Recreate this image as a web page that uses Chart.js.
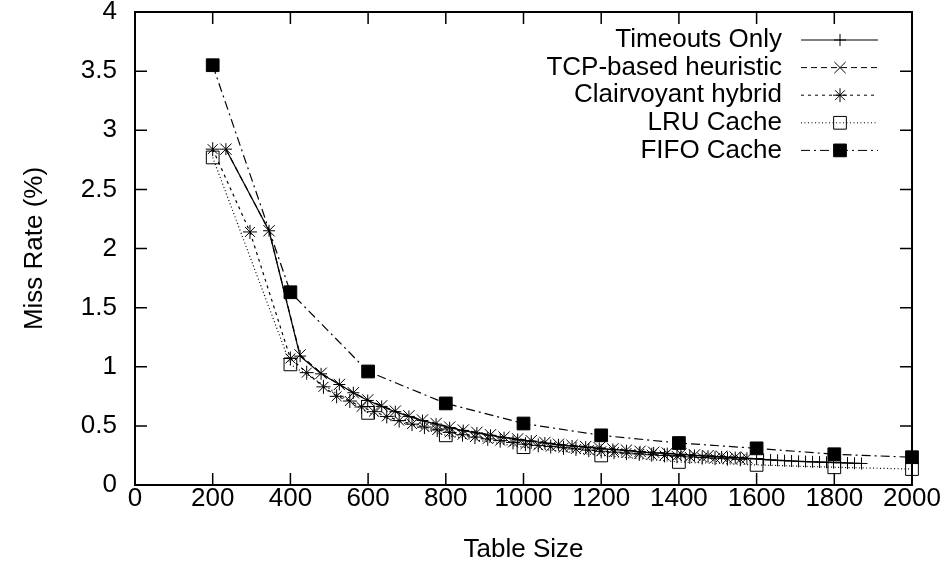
<!DOCTYPE html>
<html>
<head>
<meta charset="utf-8">
<script src="https://cdn.jsdelivr.net/npm/chart.js@4.4.1/dist/chart.umd.min.js"></script>
<style>
  body { margin: 0; background: #fff; }
  #wrap { width: 951px; height: 571px; }
</style>
</head>
<body>
<div id="wrap"><canvas id="chart" width="951" height="571"></canvas></div>
<script>
/******************************************************************************
* Data (table size vs. miss rate in %).
******************************************************************************/
var xTicks = [0, 200, 400, 600, 800, 1000, 1200, 1400, 1600, 1800, 2000];
var yTicks = [0, 0.5, 1, 1.5, 2, 2.5, 3, 3.5, 4];

var seriesNames = ["Timeouts Only", "TCP-based heuristic", "Clairvoyant hybrid", "LRU Cache", "FIFO Cache"];

var timeoutsX = [234, 345, 425, 479, 526, 562, 599, 635, 670, 705, 740, 775, 810, 845, 880, 915,
                 950, 985, 1020, 1055, 1090, 1125, 1160, 1195, 1230, 1265, 1300, 1335, 1370, 1405,
                 1440, 1475, 1510, 1545, 1575, 1600, 1618, 1636, 1654, 1672, 1690, 1708, 1726,
                 1744, 1762, 1780, 1798, 1816, 1834, 1852, 1870];
var timeoutsY = [2.84, 2.15, 1.09, 0.94, 0.85, 0.78, 0.715, 0.665, 0.62, 0.58, 0.545, 0.515, 0.485,
                 0.46, 0.44, 0.42, 0.40, 0.385, 0.37, 0.355, 0.34, 0.33, 0.32, 0.31, 0.30, 0.29,
                 0.28, 0.272, 0.265, 0.258, 0.25, 0.244, 0.238, 0.232, 0.226, 0.22, 0.216, 0.212,
                 0.209, 0.206, 0.203, 0.2, 0.198, 0.196, 0.194, 0.192, 0.19, 0.188, 0.186, 0.184, 0.182];

var tcpX = [234, 345, 425, 479, 526, 562, 599, 635, 670, 705, 740, 775, 810, 845, 880, 915,
            950, 985, 1020, 1055, 1090, 1125, 1160, 1195, 1230, 1265, 1300, 1335, 1370, 1405,
            1440, 1475, 1510, 1545, 1575];
var tcpY = [2.84, 2.15, 1.10, 0.945, 0.85, 0.78, 0.72, 0.67, 0.625, 0.585, 0.55, 0.52, 0.49,
            0.465, 0.445, 0.425, 0.405, 0.39, 0.375, 0.36, 0.345, 0.335, 0.325, 0.315, 0.305,
            0.295, 0.285, 0.277, 0.27, 0.262, 0.255, 0.248, 0.242, 0.236, 0.23];

var clairX = [200, 296, 400, 442, 485, 519, 553, 583, 615, 648, 680, 713, 745, 778, 810, 843,
              875, 908, 940, 973, 1005, 1038, 1070, 1103, 1135, 1168, 1200, 1233, 1265, 1298,
              1330, 1363, 1395, 1428, 1460, 1493, 1525, 1558];
var clairY = [2.84, 2.14, 1.07, 0.95, 0.83, 0.75, 0.71, 0.66, 0.62, 0.58, 0.545, 0.515, 0.49,
              0.465, 0.445, 0.425, 0.405, 0.39, 0.375, 0.36, 0.345, 0.335, 0.325, 0.315, 0.305,
              0.295, 0.285, 0.278, 0.27, 0.263, 0.256, 0.25, 0.244, 0.238, 0.232, 0.227, 0.222, 0.217];

var cacheX = [200, 400, 600, 800, 1000, 1200, 1400, 1600, 1800, 2000];
var lruY   = [2.77, 1.02, 0.61, 0.42, 0.32, 0.25, 0.195, 0.17, 0.15, 0.135];
var fifoY  = [3.55, 1.63, 0.96, 0.69, 0.52, 0.42, 0.355, 0.31, 0.26, 0.235];

/******************************************************************************
* Helpers
******************************************************************************/
var FONT = '"Liberation Sans", Arial, Helvetica, sans-serif';

function pairs(xs, ys) {
    return xs.map(function(x, i) { return { x: x, y: ys[i] }; });
}

function plain_label(value) {
    // gnuplot style: no thousands separator, no trailing ".0"
    return String(value);
}

function make_series(label, xs, ys, dash, style, radius, fill, order) {
    return {
        label: label,
        data: pairs(xs, ys),
        borderColor: '#000',
        borderWidth: 1.2,
        borderDash: dash,
        pointStyle: style,
        pointRadius: radius,
        pointBorderWidth: 1,
        pointBorderColor: '#000',
        pointBackgroundColor: fill,
        fill: false,
        tension: 0,
        clip: false,
        order: order
    };
}

/******************************************************************************
* Border box with inward ticks on all four sides (gnuplot look).
******************************************************************************/
var framePlugin = {
    id: 'frame',
    afterDatasetsDraw: function(chart) {
        var ctx  = chart.ctx;
        var area = chart.chartArea;
        var xs   = chart.scales.x;
        var ys   = chart.scales.y;
        var len  = 12;

        ctx.save();
        ctx.strokeStyle = '#000';
        ctx.lineWidth = 1.5;
        ctx.setLineDash([]);
        ctx.beginPath();

        xTicks.forEach(function(v) {
            var px = xs.getPixelForValue(v);
            ctx.moveTo(px, area.bottom); ctx.lineTo(px, area.bottom - len);
            ctx.moveTo(px, area.top);    ctx.lineTo(px, area.top + len);
        });
        yTicks.forEach(function(v) {
            var py = ys.getPixelForValue(v);
            ctx.moveTo(area.left, py);  ctx.lineTo(area.left + len, py);
            ctx.moveTo(area.right, py); ctx.lineTo(area.right - len, py);
        });
        ctx.stroke();

        ctx.lineWidth = 2;
        ctx.strokeRect(area.left, area.top, area.right - area.left, area.bottom - area.top);
        ctx.restore();
    }
};

/******************************************************************************
* Key in the top right corner: right aligned text, then the line sample.
******************************************************************************/
var keyPlugin = {
    id: 'gpKey',
    afterDraw: function(chart) {
        var ctx   = chart.ctx;
        var right = chart.chartArea.right;
        var top   = chart.chartArea.top;

        ctx.save();
        ctx.font = '26px ' + FONT;
        ctx.textAlign = 'right';
        ctx.textBaseline = 'middle';

        chart.data.datasets.forEach(function(ds, i) {
            var y = top + 28 + i * 27.6;

            ctx.fillStyle = '#000';
            ctx.fillText(ds.label, right - 130, y);

            ctx.strokeStyle = '#000';
            ctx.lineWidth = 1;
            ctx.setLineDash(ds.borderDash);
            ctx.beginPath();
            ctx.moveTo(right - 111, y);
            ctx.lineTo(right - 34, y);
            ctx.stroke();
            ctx.setLineDash([]);

            ctx.fillStyle = ds.pointBackgroundColor;
            Chart.helpers.drawPoint(ctx, {
                pointStyle: ds.pointStyle,
                radius: ds.pointRadius,
                rotation: 0,
                borderWidth: 1
            }, right - 72, y);
        });
        ctx.restore();
    }
};

/******************************************************************************
* Build the chart
******************************************************************************/
var datasets = [
    make_series(seriesNames[0], timeoutsX, timeoutsY, [],            'cross',    6, '#000', 5),
    make_series(seriesNames[1], tcpX,      tcpY,      [6, 4],        'crossRot', 8, '#000', 4),
    make_series(seriesNames[2], clairX,    clairY,    [3, 4],        'star',     7, '#000', 3),
    make_series(seriesNames[3], cacheX,    lruY,      [1, 2.5],      'rect',     9, 'rgba(0,0,0,0)', 2),
    make_series(seriesNames[4], cacheX,    fifoY,     [9, 4, 2, 4],  'rect',     9, '#000', 1)
];

var ctx = document.getElementById('chart').getContext('2d');

window.missChart = new Chart(ctx, {
    type: 'line',
    data: { datasets: datasets },
    options: {
        responsive: false,
        devicePixelRatio: 1,
        animation: false,
        layout: { padding: 0 },
        plugins: {
            legend:  { display: false },
            tooltip: { enabled: false }
        },
        scales: {
            x: {
                type: 'linear',
                min: 0,
                max: 2000,
                afterBuildTicks: function(s) {
                    s.ticks = xTicks.map(function(v) { return { value: v }; });
                },
                afterFit: function(s) {
                    s.height = 86;
                    s.paddingLeft = 0;
                    s.paddingRight = 39;
                },
                grid:   { display: false, drawTicks: false },
                border: { display: false },
                ticks: {
                    color: '#000',
                    font: { family: FONT, size: 26 },
                    padding: -2,
                    maxRotation: 0,
                    autoSkip: false,
                    callback: plain_label
                },
                title: {
                    display: true,
                    text: 'Table Size',
                    color: '#000',
                    font: { family: FONT, size: 26 },
                    padding: { top: 0, bottom: 6 }
                }
            },
            y: {
                type: 'linear',
                min: 0,
                max: 4,
                afterBuildTicks: function(s) {
                    s.ticks = yTicks.map(function(v) { return { value: v }; });
                },
                afterFit: function(s) {
                    s.width = 135;
                    s.paddingTop = 12;
                    s.paddingBottom = 0;
                },
                grid:   { display: false, drawTicks: false },
                border: { display: false },
                ticks: {
                    color: '#000',
                    font: { family: FONT, size: 26 },
                    padding: 18,
                    callback: plain_label
                },
                title: {
                    display: true,
                    text: 'Miss Rate (%)',
                    color: '#000',
                    font: { family: FONT, size: 26 },
                    padding: { top: 19, bottom: 0 }
                }
            }
        }
    },
    plugins: [framePlugin, keyPlugin]
});
</script>
</body>
</html>
